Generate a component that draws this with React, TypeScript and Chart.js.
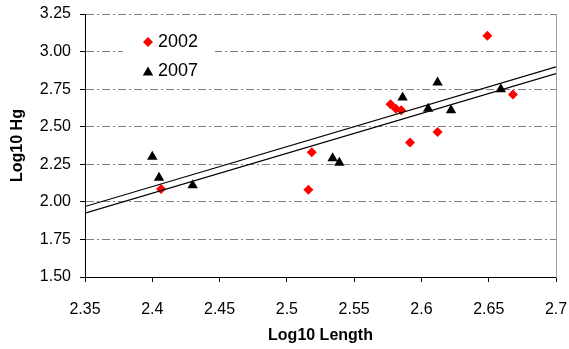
import { useEffect, useRef } from 'react';
import { Chart, registerables } from 'chart.js';
import { drawPoint } from 'chart.js/helpers';

Chart.register(...registerables);

const series2002Label = '2002';
const series2002X = [2.4065, 2.516, 2.5185, 2.577, 2.581, 2.585, 2.5915, 2.612, 2.649, 2.668];
const series2002Y = [2.085, 2.08, 2.33, 2.65, 2.62, 2.61, 2.395, 2.465, 3.105, 2.715];

const series2007Label = '2007';
const series2007X = [2.4, 2.405, 2.43, 2.534, 2.539, 2.586, 2.605, 2.612, 2.622, 2.659];
const series2007Y = [2.3, 2.16, 2.11, 2.29, 2.26, 2.695, 2.62, 2.795, 2.61, 2.75];

const trendX = [2.35, 2.7];
const trendUpperY = [1.969, 2.898];
const trendLowerY = [1.925, 2.854];

const xTickValues = [2.35, 2.4, 2.45, 2.5, 2.55, 2.6, 2.65, 2.7];
const xTickLabels = ['2.35', '2.4', '2.45', '2.5', '2.55', '2.6', '2.65', '2.7'];
const yTickValues = [1.5, 1.75, 2.0, 2.25, 2.5, 2.75, 3.0, 3.25];
const yTickLabels = ['1.50', '1.75', '2.00', '2.25', '2.50', '2.75', '3.00', '3.25'];

const FONT = "'Liberation Sans', Arial, sans-serif";

const toPoints = (xs: number[], ys: number[]) => xs.map((x, i) => ({ x, y: ys[i] }));

const insideLegend = {
  id: 'insideLegend',
  afterDatasetsDraw(chart: any) {
    const { ctx, chartArea } = chart;
    const l = chartArea.left;
    const t = chartArea.top;
    ctx.save();
    ctx.fillStyle = '#ffffff';
    ctx.fillRect(l + 38, t + 12, 92, 60);
    const items = chart.data.datasets.filter((d: any) => d.inLegend);
    const rows = [
      { py: t + 28, ty: t + 28 },
      { py: t + 58.5, ty: t + 57 },
    ];
    items.forEach((d: any, i: number) => {
      const r = rows[i];
      ctx.fillStyle = d.pointBackgroundColor;
      ctx.strokeStyle = d.pointBackgroundColor;
      drawPoint(
        ctx,
        {
          pointStyle: d.pointStyle,
          radius: d.pointRadius,
          rotation: 0,
          borderWidth: 0,
        } as any,
        l + 63,
        r.py
      );
      ctx.fillStyle = '#000';
      ctx.font = `18px ${FONT}`;
      ctx.textAlign = 'left';
      ctx.textBaseline = 'middle';
      ctx.fillText(d.label, l + 73, r.ty);
    });
    ctx.restore();
  },
};

export default function App() {
  const canvasRef = useRef<HTMLCanvasElement | null>(null);

  useEffect(() => {
    if (!canvasRef.current) return;
    Chart.defaults.font.family = FONT;
    const chart = new Chart(canvasRef.current, {
      type: 'scatter',
      data: {
        datasets: [
          {
            label: series2002Label,
            inLegend: true,
            data: toPoints(series2002X, series2002Y),
            pointStyle: 'rectRot',
            pointRadius: 5,
            pointBackgroundColor: '#ff0000',
            backgroundColor: '#ff0000',
            borderColor: '#ff0000',
            pointBorderWidth: 0,
            order: 3,
          } as any,
          {
            label: series2007Label,
            inLegend: true,
            data: toPoints(series2007X, series2007Y),
            pointStyle: 'triangle',
            pointRadius: 6,
            pointBackgroundColor: '#000000',
            backgroundColor: '#000000',
            borderColor: '#000000',
            pointBorderWidth: 0,
            order: 2,
          } as any,
          {
            label: 'Trend A',
            data: toPoints(trendX, trendUpperY),
            showLine: true,
            pointRadius: 0,
            borderColor: '#000000',
            borderWidth: 1.2,
            order: 1,
          } as any,
          {
            label: 'Trend B',
            data: toPoints(trendX, trendLowerY),
            showLine: true,
            pointRadius: 0,
            borderColor: '#000000',
            borderWidth: 1.2,
            order: 1,
          } as any,
        ],
      },
      options: {
        animation: false,
        responsive: true,
        maintainAspectRatio: false,
        layout: { padding: { top: 14, right: 13, left: 0, bottom: 0 } },
        plugins: {
          legend: { display: false },
          tooltip: { enabled: false },
        },
        scales: {
          x: {
            type: 'linear',
            position: 'bottom',
            min: 2.35,
            max: 2.7,
            afterBuildTicks: (scale: any) => {
              scale.ticks = xTickValues.map((v) => ({ value: v }));
            },
            afterFit: (scale: any) => {
              scale.height = 72;
              scale.paddingLeft = 0;
              scale.paddingRight = 0;
            },
            ticks: {
              callback: (_v: any, i: number) => xTickLabels[i],
              color: '#000',
              font: { size: 16, family: FONT },
              padding: 18,
              maxRotation: 0,
              autoSkip: false,
            },
            grid: {
              drawOnChartArea: false,
              drawTicks: true,
              tickLength: 5,
              tickColor: '#000',
              color: '#000',
            },
            border: { display: true, color: '#000', width: 1 },
            title: {
              display: true,
              text: 'Log10 Length',
              color: '#000',
              font: { size: 16, weight: 'bold', family: FONT },
              padding: { top: 0, bottom: 4 },
            },
          },
          y: {
            type: 'linear',
            position: 'left',
            min: 1.5,
            max: 3.25,
            afterBuildTicks: (scale: any) => {
              scale.ticks = yTickValues.map((v) => ({ value: v }));
            },
            afterFit: (scale: any) => {
              scale.width = 85;
              scale.paddingTop = 0;
              scale.paddingBottom = 0;
            },
            ticks: {
              callback: (_v: any, i: number) => yTickLabels[i],
              color: '#000',
              font: { size: 16, family: FONT },
              padding: 9,
              autoSkip: false,
            },
            grid: {
              drawOnChartArea: true,
              drawTicks: true,
              tickLength: 5,
              tickColor: '#000',
              tickBorderDash: [],
              color: (c: any) => (c.tick && c.tick.value === 1.5 ? 'rgba(0,0,0,0)' : '#808080'),
              lineWidth: 1,
            },
            border: { display: true, color: '#000', width: 1, dash: [8, 3, 2, 3] },
            title: {
              display: true,
              text: 'Log10 Hg',
              color: '#000',
              font: { size: 16, weight: 'bold', family: FONT },
              padding: { top: 8, bottom: 0 },
            },
          },
          y2: {
            type: 'linear',
            position: 'right',
            min: 1.5,
            max: 3.25,
            afterFit: (scale: any) => {
              scale.width = 0;
              scale.paddingTop = 0;
              scale.paddingBottom = 0;
            },
            ticks: { display: false },
            grid: { drawOnChartArea: false, drawTicks: false },
            border: { display: true, color: '#a0a0a0', width: 1 },
          },
        },
      } as any,
      plugins: [insideLegend],
    });
    return () => chart.destroy();
  }, []);

  return (
    <div style={{ position: 'fixed', left: 0, top: 0, width: 569, height: 349, background: '#fff' }}>
      <canvas ref={canvasRef} />
    </div>
  );
}
